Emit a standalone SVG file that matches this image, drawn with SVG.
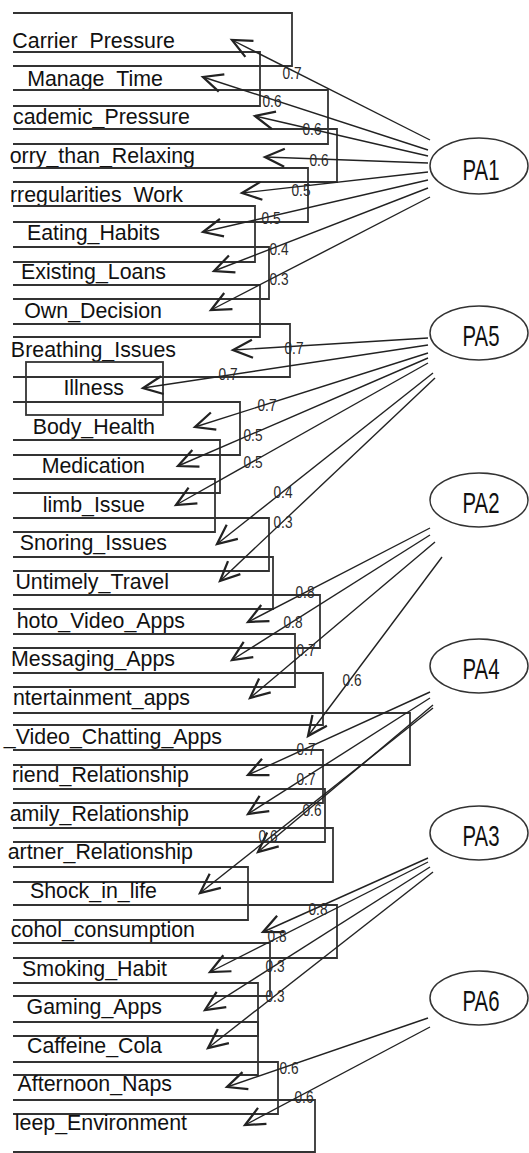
<svg xmlns="http://www.w3.org/2000/svg" width="529" height="1153" viewBox="0 0 529 1153">
<style>
.box{fill:none;stroke:#333;stroke-width:1.8}
.lbl{font-family:"Liberation Sans",Arial,sans-serif;font-size:23px;fill:#111;text-anchor:end}
.fac{fill:none;stroke:#333;stroke-width:1.5}
.ftxt{font-family:"Liberation Sans",Arial,sans-serif;font-size:30px;fill:#111;text-anchor:middle}
.ar{fill:none;stroke:#222;stroke-width:1.4;marker-end:url(#ah)}
.ld{font-family:"Liberation Sans",Arial,sans-serif;font-size:17px;fill:#2a2a2a;text-anchor:middle}
</style>
<defs>
<marker id="ah" markerUnits="userSpaceOnUse" markerWidth="30" markerHeight="30" viewBox="-16 -10 20 20" refX="0" refY="0" orient="auto" overflow="visible">
<path d="M-13,-6 L0,0 L-13,6" fill="none" stroke="#222" stroke-width="1.5"/>
</marker>
</defs>
<rect width="529" height="1153" fill="#fff"/>

<g id="nodes">
<g id="n1"><path class="box" d="M13,13 H292 V66 H13"/><text class="lbl" transform="translate(175,48) scale(0.93,1)">Carrier_Pressure</text></g>
<g id="n2"><path class="box" d="M13,52 H260 V106 H13"/><text class="lbl" transform="translate(163,86) scale(0.93,1)">Manage_Time</text></g>
<g id="n3"><path class="box" d="M13,90 H328 V144 H13"/><text class="lbl" transform="translate(190,124) scale(0.93,1)">cademic_Pressure</text></g>
<g id="n4"><path class="box" d="M13,129 H337 V182 H13"/><text class="lbl" transform="translate(195,163) scale(0.93,1)">orry_than_Relaxing</text></g>
<g id="n5"><path class="box" d="M13,168 H308 V222 H13"/><text class="lbl" transform="translate(183,202) scale(0.93,1)">rregularities_Work</text></g>
<g id="n6"><path class="box" d="M13,206 H255 V262 H13"/><text class="lbl" transform="translate(160,240) scale(0.93,1)">Eating_Habits</text></g>
<g id="n7"><path class="box" d="M13,247 H269 V299 H13"/><text class="lbl" transform="translate(166,279) scale(0.93,1)">Existing_Loans</text></g>
<g id="n8"><path class="box" d="M13,285 H260 V337 H13"/><text class="lbl" transform="translate(162,318) scale(0.93,1)">Own_Decision</text></g>
<g id="n9"><path class="box" d="M13,324 H290 V377 H13"/><text class="lbl" transform="translate(176,357) scale(0.93,1)">Breathing_Issues</text></g>
<g id="n10"><rect class="box" x="26" y="362" width="137" height="53"/><text class="lbl" transform="translate(124,395) scale(0.93,1)">Illness</text></g>
<g id="n11"><path class="box" d="M13,402 H240 V455 H13"/><text class="lbl" transform="translate(155,434) scale(0.93,1)">Body_Health</text></g>
<g id="n12"><path class="box" d="M13,440 H220 V493 H13"/><text class="lbl" transform="translate(145,473) scale(0.93,1)">Medication</text></g>
<g id="n13"><path class="box" d="M13,479 H215 V532 H13"/><text class="lbl" transform="translate(145,512) scale(0.93,1)">limb_Issue</text></g>
<g id="n14"><path class="box" d="M13,518 H269 V571 H13"/><text class="lbl" transform="translate(167,550) scale(0.93,1)">Snoring_Issues</text></g>
<g id="n15"><path class="box" d="M13,557 H273 V609 H13"/><text class="lbl" transform="translate(169,589) scale(0.93,1)">Untimely_Travel</text></g>
<g id="n16"><path class="box" d="M13,595 H320 V648 H13"/><text class="lbl" transform="translate(185,628) scale(0.93,1)">hoto_Video_Apps</text></g>
<g id="n17"><path class="box" d="M13,634 H295 V687 H13"/><text class="lbl" transform="translate(175,666) scale(0.93,1)">Messaging_Apps</text></g>
<g id="n18"><path class="box" d="M13,673 H323 V725 H13"/><text class="lbl" transform="translate(190,705) scale(0.93,1)">ntertainment_apps</text></g>
<g id="n19"><path class="box" d="M13,713 H410 V765 H13"/><text class="lbl" transform="translate(222,744) scale(0.93,1)">_Video_Chatting_Apps</text></g>
<g id="n20"><path class="box" d="M13,750 H323 V803 H13"/><text class="lbl" transform="translate(189,782) scale(0.93,1)">riend_Relationship</text></g>
<g id="n21"><path class="box" d="M13,789 H325 V842 H13"/><text class="lbl" transform="translate(189,821) scale(0.93,1)">amily_Relationship</text></g>
<g id="n22"><path class="box" d="M13,828 H333 V882 H13"/><text class="lbl" transform="translate(193,859) scale(0.93,1)">artner_Relationship</text></g>
<g id="n23"><path class="box" d="M13,867 H248 V920 H13"/><text class="lbl" transform="translate(157,898) scale(0.93,1)">Shock_in_life</text></g>
<g id="n24"><path class="box" d="M13,905 H337 V958 H13"/><text class="lbl" transform="translate(195,937) scale(0.93,1)">cohol_consumption</text></g>
<g id="n25"><path class="box" d="M13,943 H270 V996 H13"/><text class="lbl" transform="translate(167,976) scale(0.93,1)">Smoking_Habit</text></g>
<g id="n26"><path class="box" d="M13,983 H258 V1036 H13"/><text class="lbl" transform="translate(162,1014) scale(0.93,1)">Gaming_Apps</text></g>
<g id="n27"><path class="box" d="M13,1022 H258 V1075 H13"/><text class="lbl" transform="translate(162,1053) scale(0.93,1)">Caffeine_Cola</text></g>
<g id="n28"><path class="box" d="M13,1062 H278 V1114 H13"/><text class="lbl" transform="translate(172,1091) scale(0.93,1)">Afternoon_Naps</text></g>
<g id="n29"><path class="box" d="M13,1100 H315 V1152 H13"/><text class="lbl" transform="translate(187,1130) scale(0.93,1)">leep_Environment</text></g>

<g id="PA1"><ellipse class="fac" cx="479" cy="166" rx="49" ry="28"/><text class="ftxt" x="481" y="180" textLength="37" lengthAdjust="spacingAndGlyphs">PA1</text></g>
<g id="PA5"><ellipse class="fac" cx="479" cy="333" rx="49" ry="27"/><text class="ftxt" x="481" y="346" textLength="37" lengthAdjust="spacingAndGlyphs">PA5</text></g>
<g id="PA2"><ellipse class="fac" cx="479" cy="500" rx="49" ry="27"/><text class="ftxt" x="481" y="513" textLength="37" lengthAdjust="spacingAndGlyphs">PA2</text></g>
<g id="PA4"><ellipse class="fac" cx="479" cy="666" rx="49" ry="27"/><text class="ftxt" x="481" y="679" textLength="37" lengthAdjust="spacingAndGlyphs">PA4</text></g>
<g id="PA3"><ellipse class="fac" cx="479" cy="833" rx="49" ry="27"/><text class="ftxt" x="481" y="846" textLength="37" lengthAdjust="spacingAndGlyphs">PA3</text></g>
<g id="PA6"><ellipse class="fac" cx="479" cy="998" rx="49" ry="27"/><text class="ftxt" x="481" y="1011" textLength="37" lengthAdjust="spacingAndGlyphs">PA6</text></g>
</g>

<g id="connectors">
<path class="ar" d="M430,140 L232,40"/>
<path class="ar" d="M428,150 L203,77"/>
<path class="ar" d="M428,156 L255,116"/>
<path class="ar" d="M428,163 L265,157"/>
<path class="ar" d="M428,172 L242,193"/>
<path class="ar" d="M428,180 L203,232"/>
<path class="ar" d="M428,188 L214,271"/>
<path class="ar" d="M430,197 L211,310"/>

<path class="ar" d="M428,338 L233,350"/>
<path class="ar" d="M428,345 L143,388"/>
<path class="ar" d="M428,353 L195,427"/>
<path class="ar" d="M428,358 L178,466"/>
<path class="ar" d="M428,363 L176,505"/>
<path class="ar" d="M433,373 L217,544"/>
<path class="ar" d="M435,378 L220,581"/>

<path class="ar" d="M430,528 L248,622"/>
<path class="ar" d="M430,535 L232,660"/>
<path class="ar" d="M435,542 L250,698"/>
<path class="ar" d="M442,557 L308,736"/>

<path class="ar" d="M430,692 L248,775"/>
<path class="ar" d="M430,698 L248,814"/>
<path class="ar" d="M433,705 L258,852"/>
<path class="ar" d="M433,708 L200,893"/>

<path class="ar" d="M428,858 L263,932"/>
<path class="ar" d="M428,862 L210,972"/>
<path class="ar" d="M430,867 L205,1010"/>
<path class="ar" d="M433,872 L208,1048"/>

<path class="ar" d="M428,1018 L227,1087"/>
<path class="ar" d="M430,1027 L245,1125"/>

<g id="loadings">
<text class="ld" x="292" y="79" textLength="19" lengthAdjust="spacingAndGlyphs">0.7</text>
<text class="ld" x="272" y="107" textLength="19" lengthAdjust="spacingAndGlyphs">0.6</text>
<text class="ld" x="312" y="135" textLength="19" lengthAdjust="spacingAndGlyphs">0.6</text>
<text class="ld" x="319" y="166" textLength="19" lengthAdjust="spacingAndGlyphs">0.6</text>
<text class="ld" x="301" y="196" textLength="19" lengthAdjust="spacingAndGlyphs">0.5</text>
<text class="ld" x="271" y="224" textLength="19" lengthAdjust="spacingAndGlyphs">0.5</text>
<text class="ld" x="279" y="255" textLength="19" lengthAdjust="spacingAndGlyphs">0.4</text>
<text class="ld" x="279" y="285" textLength="19" lengthAdjust="spacingAndGlyphs">0.3</text>

<text class="ld" x="294" y="354" textLength="19" lengthAdjust="spacingAndGlyphs">0.7</text>
<text class="ld" x="228" y="380" textLength="19" lengthAdjust="spacingAndGlyphs">0.7</text>
<text class="ld" x="267" y="411" textLength="19" lengthAdjust="spacingAndGlyphs">0.7</text>
<text class="ld" x="253" y="441" textLength="19" lengthAdjust="spacingAndGlyphs">0.5</text>
<text class="ld" x="253" y="468" textLength="19" lengthAdjust="spacingAndGlyphs">0.5</text>
<text class="ld" x="283" y="498" textLength="19" lengthAdjust="spacingAndGlyphs">0.4</text>
<text class="ld" x="283" y="528" textLength="19" lengthAdjust="spacingAndGlyphs">0.3</text>

<text class="ld" x="305" y="598" textLength="19" lengthAdjust="spacingAndGlyphs">0.8</text>
<text class="ld" x="293" y="628" textLength="19" lengthAdjust="spacingAndGlyphs">0.8</text>
<text class="ld" x="306" y="656" textLength="19" lengthAdjust="spacingAndGlyphs">0.7</text>
<text class="ld" x="352" y="686" textLength="19" lengthAdjust="spacingAndGlyphs">0.6</text>

<text class="ld" x="306" y="755" textLength="19" lengthAdjust="spacingAndGlyphs">0.7</text>
<text class="ld" x="306" y="785" textLength="19" lengthAdjust="spacingAndGlyphs">0.7</text>
<text class="ld" x="312" y="816" textLength="19" lengthAdjust="spacingAndGlyphs">0.6</text>
<text class="ld" x="268" y="842" textLength="19" lengthAdjust="spacingAndGlyphs">0.6</text>

<text class="ld" x="318" y="915" textLength="19" lengthAdjust="spacingAndGlyphs">0.8</text>
<text class="ld" x="277" y="942" textLength="19" lengthAdjust="spacingAndGlyphs">0.8</text>
<text class="ld" x="275" y="972" textLength="19" lengthAdjust="spacingAndGlyphs">0.3</text>
<text class="ld" x="275" y="1002" textLength="19" lengthAdjust="spacingAndGlyphs">0.3</text>

<text class="ld" x="289" y="1074" textLength="19" lengthAdjust="spacingAndGlyphs">0.6</text>
<text class="ld" x="304" y="1103" textLength="19" lengthAdjust="spacingAndGlyphs">0.6</text>
</g>
</g>
</svg>
